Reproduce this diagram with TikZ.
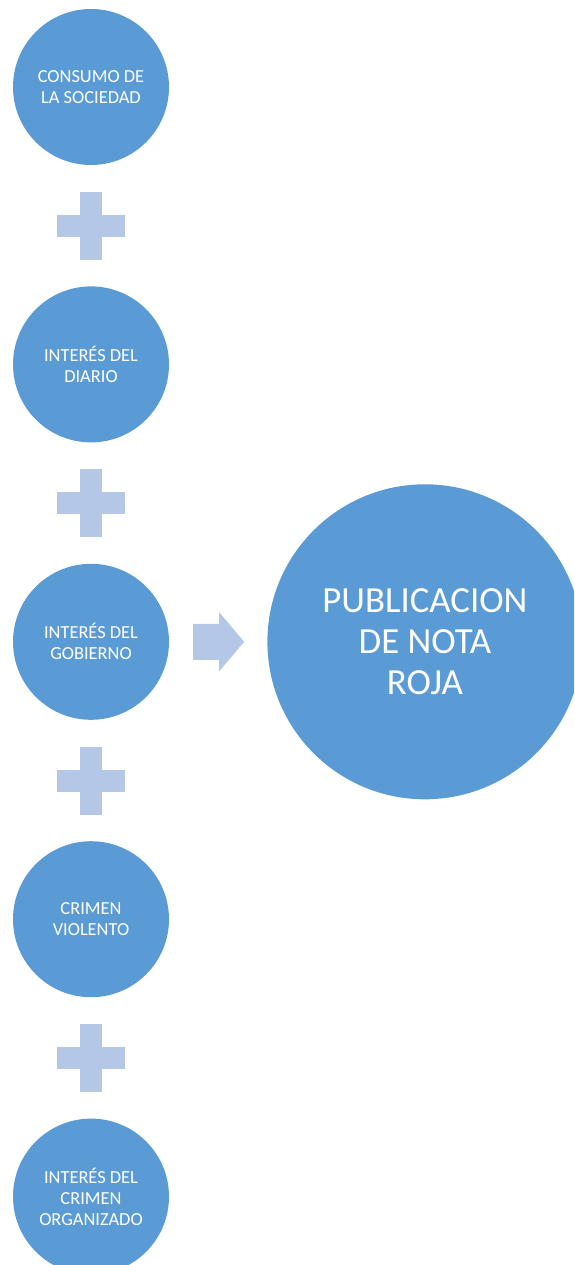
\documentclass[tikz,border=0pt]{standalone}
\usepackage{fontspec}
\setmainfont{Carlito}
\usepackage{xcolor}
\definecolor{bubbleblue}{HTML}{5B9BD5}
\definecolor{plusblue}{HTML}{B4C7E7}
\usetikzlibrary{positioning}
\usetikzlibrary{calc}
\tikzset{bubble/.style={circle, fill=bubbleblue, text=white, inner sep=0pt,
		minimum size=156pt, align=center, font=\fontsize{18.4}{21}\selectfont},
	bigbubble/.style={bubble, minimum size=315pt, font=\fontsize{36.8}{41}\selectfont}}
\tikzset{pics/.cd, plussign/.style={code={%
			\fill[plusblue] (-11,-34) rectangle (11,34);
			\fill[plusblue] (-34,-11) rectangle (34,11);}},
	blockarrow/.style={code={%
			\fill[plusblue] (-25,-18) -- (1,-18) -- (1,-29.5) -- (26,0) --
			(1,29.5) -- (1,18) -- (-25,18) -- cycle;}}}

\begin{document}
\begin{tikzpicture}[x=1pt, y=-1pt]
\useasboundingbox (0,0) rectangle (574,1265);
\clip (0,0) rectangle (574,1265);

% left column
\node[bubble] (consumo) at (91,87) {CONSUMO DE\\LA SOCIEDAD};
\node[bubble, below=121pt of consumo] (diario) {INTERÉS DEL\\DIARIO};
\node[bubble, below=121pt of diario] (gobierno) {INTERÉS DEL\\GOBIERNO};
\node[bubble, below=121pt of gobierno] (crimen) {CRIMEN\\VIOLENTO};
\node[bubble, below=121pt of crimen] (organizado) {INTERÉS DEL\\CRIMEN\\ORGANIZADO};

% plus signs
\foreach \a/\b in {consumo/diario, diario/gobierno, gobierno/crimen, crimen/organizado}
	\path ($(\a)!0.5!(\b)$) pic{plussign};

% result
\node[bigbubble, right=98pt of gobierno] (nota) {PUBLICACION\\DE NOTA\\ROJA};
\path ($(gobierno.east)!0.5!(nota.west)$) pic{blockarrow};
\end{tikzpicture}
\end{document}
